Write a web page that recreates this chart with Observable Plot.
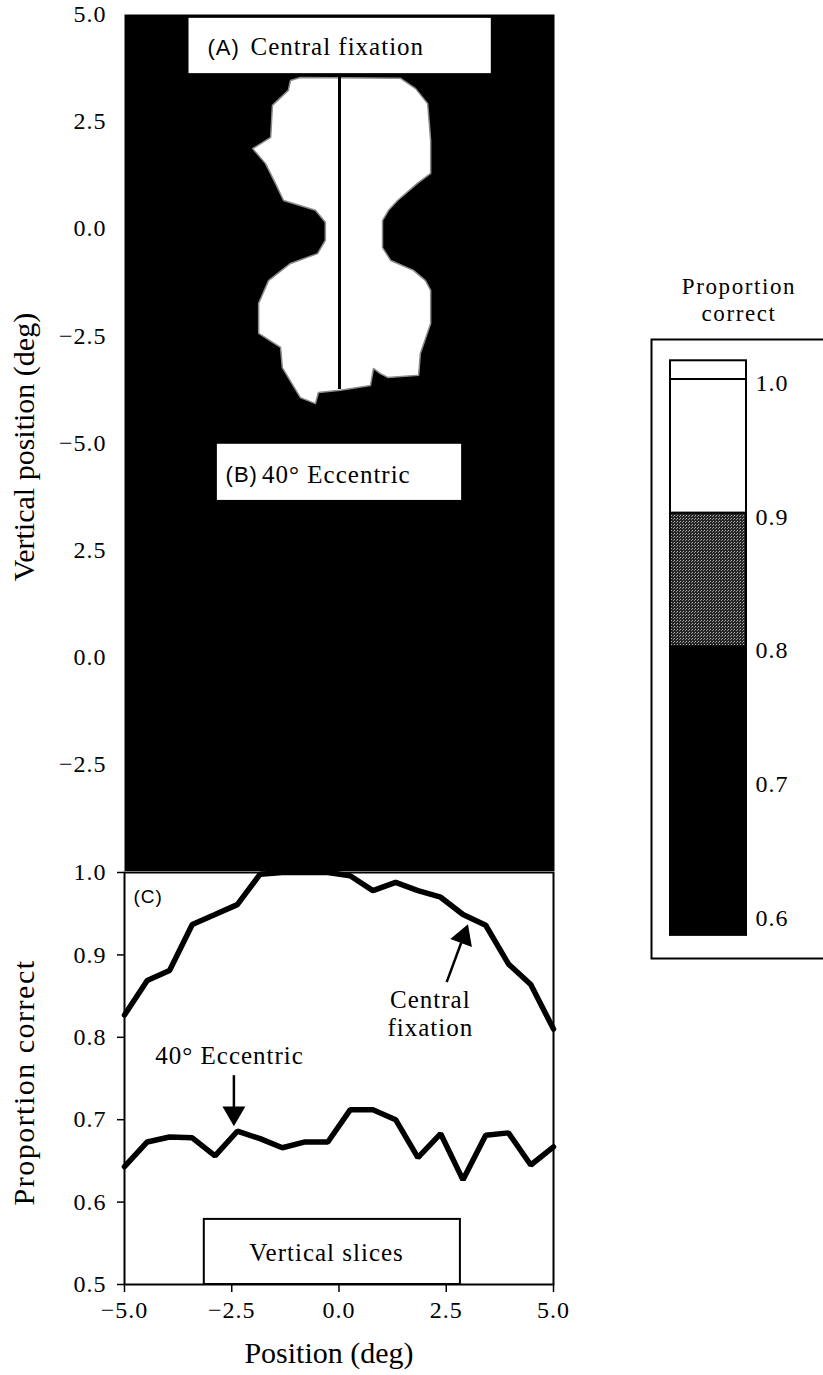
<!DOCTYPE html>
<html>
<head>
<meta charset="utf-8">
<script src="https://cdn.jsdelivr.net/npm/d3@7"></script>
<script src="https://cdn.jsdelivr.net/npm/@observablehq/plot@0.6"></script>
<style>
  html, body { margin: 0; padding: 0; background: #fff; }
  #chart { position: relative; width: 823px; height: 1375px; overflow: hidden; background: #fff; }
  #chart > svg { position: absolute; }
</style>
</head>
<body>
<div id="chart"></div>
<script>
// ---------- Panel C: proportion correct along vertical slices ----------
const positions = [-5.00, -4.47, -3.95, -3.42, -2.89, -2.37, -1.84, -1.32, -0.79, -0.26,
                    0.26, 0.79, 1.32, 1.84, 2.37, 2.89, 3.42, 3.95, 4.47, 5.00];
const centralFixation = [0.827, 0.869, 0.881, 0.937, 0.949, 0.961, 0.998, 1.0, 1.0, 1.0,
                         0.996, 0.978, 0.988, 0.978, 0.970, 0.949, 0.936, 0.889, 0.864, 0.810];
const eccentric40 = [0.643, 0.673, 0.679, 0.678, 0.656, 0.686, 0.677, 0.666, 0.673, 0.673,
                     0.712, 0.712, 0.700, 0.654, 0.683, 0.627, 0.681, 0.684, 0.645, 0.667];
const cXTicks = [-5, -2.5, 0, 2.5, 5];
const cYTicks = [0.5, 0.6, 0.7, 0.8, 0.9, 1.0];

// ---------- Panel A: region with proportion correct >= 0.9 (white) ----------
const blobX = [-1.14, -0.91, 1.42, 1.77, 2.05, 2.12, 2.12, 1.81, 1.35, 1.14, 1.00, 1.00, 1.19, 1.72,
               2.00, 2.12, 2.12, 1.88, 1.84, 1.12, 0.95, 0.79, 0.72, 0.02, -0.49, -0.56, -0.91,
               -1.33, -1.37, -1.88, -1.88, -1.65, -1.14, -0.51, -0.33, -0.33, -0.56, -1.30, -1.49,
               -1.72, -2.02, -1.60, -1.56, -1.19];
const blobY = [3.46, 3.53, 3.51, 3.27, 2.92, 2.06, 1.29, 1.06, 0.66, 0.43, 0.19, -0.44, -0.74, -0.97,
               -1.21, -1.44, -2.21, -2.91, -3.42, -3.47, -3.38, -3.26, -3.66, -3.77, -3.82, -4.08, -3.94,
               -3.24, -2.77, -2.44, -1.74, -1.21, -0.81, -0.58, -0.27, 0.15, 0.43, 0.66, 1.06,
               1.52, 1.87, 2.13, 2.88, 3.23];
const centreLineX = [0];
const centreLineTop = [3.62];
const centreLineBottom = [-3.75];

// A and B share one vertical axis; panel B is drawn 10 units below panel A
const panelBOffset = -10;
const abTickValues = [5, 2.5, 0, -2.5, -5, -7.5, -10, -12.5];
const abTickLabels = ["5.0", "2.5", "0.0", "−2.5", "−5.0", "2.5", "0.0", "−2.5"];

// Panel title boxes (in each panel's own coordinates)
const panelTags   = ["(A)", "(B)"];
const panelTitles = ["Central fixation", "40° Eccentric"];
const panelOffsets = [0, panelBOffset];
const boxX1 = [-3.50, -2.84];
const boxX2 = [3.53, 2.84];
const boxTop = [4.91, 4.97];
const boxBottom = [3.62, 3.66];
const tagX = [-3.07, -2.65];
const titleX = [-2.07, -1.80];
const titleY = [4.23, 4.26];

// Panel C annotations
const sliceBoxX = [-3.14, 2.83];
const sliceBoxY = [0.5, 0.579];
const arrowTailX = [-2.45, 2.51];
const arrowTailY = [0.754, 0.867];
const arrowHeadX = [-2.45, 2.90];
const arrowHeadY = [0.708, 0.922];
const arrowAngle = [180, 20];

// Colour key
const keyEdges = [0.584, 0.8, 0.9, 1.0, 1.014];
const keyColors = ["black", "url(#stipple)", "white", "white"];
const keyTicks = [1.0, 0.9, 0.8, 0.7, 0.6];

// ---------- build ----------
const serif = "'Liberation Serif', 'Times New Roman', serif";
const sans = "'Liberation Sans', Arial, sans-serif";
const chart = document.getElementById("chart");
function place(svg, left, top) {
  svg.style.left = left + "px";
  svg.style.top = top + "px";
  chart.appendChild(svg);
}
function spacing(svg, content, value) {
  svg.querySelectorAll("text").forEach(t => {
    if (t.textContent.replace(/\s+/g, " ").trim().startsWith(content)) t.style.letterSpacing = value;
  });
}

const blob = blobX.map((x, i) => ({x, y: blobY[i]}));
const centreLine = centreLineX.map((x, i) => ({x, y1: centreLineTop[i], y2: centreLineBottom[i]}));
const boxes = panelTags.map((tag, i) => ({
  tag, title: panelTitles[i],
  x1: boxX1[i], x2: boxX2[i],
  y1: boxTop[i] + panelOffsets[i], y2: boxBottom[i] + panelOffsets[i],
  tagX: tagX[i], titleX: titleX[i], textY: titleY[i] + panelOffsets[i]
}));

const abPlot = Plot.plot({
  width: 560, height: 871,
  marginLeft: 124, marginRight: 6, marginTop: 14, marginBottom: 0,
  style: {fontFamily: serif, fontSize: "24px", background: "transparent", letterSpacing: "1px", color: "black"},
  x: {domain: [-5, 5], axis: null},
  y: {domain: [-15, 5], axis: null},
  marks: [
    Plot.frame({fill: "black"}),
    Plot.line(blob, {x: "x", y: "y", curve: "linear-closed", fill: "white", stroke: "#8c8c8c", strokeWidth: 1.5}),
    Plot.ruleX(centreLine, {x: "x", y1: "y1", y2: "y2", stroke: "black", strokeWidth: 3}),
    Plot.rect(boxes, {x1: "x1", x2: "x2", y1: "y1", y2: "y2", fill: "white"}),
    Plot.text(boxes, {x: "tagX", y: "textY", text: "tag", textAnchor: "start", fontFamily: sans, fontSize: 22}),
    Plot.text(boxes, {x: "titleX", y: "textY", text: "title", textAnchor: "start", fontSize: 25}),
    Plot.axisY({ticks: abTickValues, tickFormat: d => abTickLabels[abTickValues.indexOf(d)],
                tickSize: 0, tickPadding: 18, fontSize: 24, label: null}),
    Plot.text(["Vertical position (deg)"], {frameAnchor: "left", textAnchor: "middle", lineAnchor: "middle",
                rotate: -90, dx: -100, dy: 4, fontSize: 30})
  ]
});
spacing(abPlot, "Vertical position", "0px");
place(abPlot, 0, 0);

const profiles = [
  ...positions.map((p, i) => ({position: p, value: centralFixation[i], series: "Central fixation"})),
  ...positions.map((p, i) => ({position: p, value: eccentric40[i], series: "40° Eccentric"}))
];
const arrows = arrowTailX.map((x, i) => ({
  x1: x, y1: arrowTailY[i], x2: arrowHeadX[i], y2: arrowHeadY[i], angle: arrowAngle[i]
}));
const sliceBox = [{x1: sliceBoxX[0], x2: sliceBoxX[1], y1: sliceBoxY[0], y2: sliceBoxY[1]}];
const serifNotes = [
  {text: "40° Eccentric", x: -2.55, y: 0.779},
  {text: "Central\nfixation", x: 2.13, y: 0.829},
  {text: "Vertical slices", x: -0.29, y: 0.540}
];

const cPlot = Plot.plot({
  width: 600, height: 524,
  marginLeft: 124, marginRight: 47, marginTop: 21, marginBottom: 91,
  style: {fontFamily: serif, fontSize: "24px", background: "transparent", letterSpacing: "1px", color: "black"},
  x: {domain: [-5, 5], axis: null},
  y: {domain: [0.5, 1.0], axis: null},
  marks: [
    Plot.frame({fill: "white"}),
    Plot.rect(sliceBox, {x1: "x1", x2: "x2", y1: "y1", y2: "y2", fill: "white", stroke: "black", strokeWidth: 2}),
    Plot.line(profiles, {x: "position", y: "value", z: "series", stroke: "black", strokeWidth: 5.5,
                         strokeLinejoin: "miter"}),
    Plot.frame({stroke: "black", strokeWidth: 2}),
    Plot.link(arrows, {x1: "x1", y1: "y1", x2: "x2", y2: "y2", stroke: "black", strokeWidth: 2.5}),
    Plot.dot(arrows, {x: "x2", y: "y2", symbol: "triangle", r: 8.5, fill: "black", rotate: "angle"}),
    Plot.text(serifNotes, {x: "x", y: "y", text: "text", fontSize: 25, lineHeight: 1.12}),
    Plot.text(["(C)"], {x: -4.79, y: 0.970, textAnchor: "start", fontFamily: sans, fontSize: 19}),
    Plot.axisX({ticks: cXTicks, tickFormat: ".1f", tickSize: 8, tickPadding: 8, strokeWidth: 1.5,
                fontSize: 24, label: null}),
    Plot.axisY({ticks: cYTicks, tickFormat: ".1f", tickSize: 7, tickPadding: 11, strokeWidth: 1.5,
                fontSize: 24, label: null}),
    Plot.text(["Position (deg)"], {frameAnchor: "bottom", textAnchor: "middle", lineAnchor: "middle",
                dy: 69, dx: -10, fontSize: 30}),
    Plot.text(["Proportion correct"], {frameAnchor: "left", textAnchor: "middle", lineAnchor: "middle",
                rotate: -90, dx: -100, dy: 4, fontSize: 30})
  ]
});
spacing(cPlot, "Position (deg)", "0px");
spacing(cPlot, "Proportion correct", "1.5px");
place(cPlot, 0, 851);

const keyBins = keyColors.map((c, i) => ({lo: keyEdges[i], hi: keyEdges[i + 1], color: c}));
const keyPlot = Plot.plot({
  width: 220, height: 720,
  marginLeft: 31, marginRight: 0, marginTop: 79, marginBottom: 22,
  style: {fontFamily: serif, fontSize: "24px", background: "transparent", letterSpacing: "1px", color: "black"},
  x: {domain: [0, 1], range: [50, 126], axis: null},
  y: {domain: [0.6, 1.0], range: [653.5, 119], axis: null},
  marks: [
    Plot.frame({stroke: "black", strokeWidth: 2}),
    ...keyBins.map(b => Plot.rect([b], {x1: 0, x2: 1, y1: "lo", y2: "hi", fill: b.color,
                                        stroke: "black", strokeWidth: 2})),
    Plot.text(keyTicks, {x: 1, y: d => d, text: d => d.toFixed(1), dx: 9, dy: 4, textAnchor: "start", fontSize: 24}),
    Plot.text(["Proportion\ncorrect"], {frameAnchor: "top", textAnchor: "middle", lineAnchor: "middle",
                dy: -41, dx: -7, fontSize: 23, lineHeight: 1.18})
  ]
});
spacing(keyPlot, "Proportion", "1.6px");
// stipple texture for the 0.8–0.9 band of the key
const ns = "http://www.w3.org/2000/svg";
const defs = document.createElementNS(ns, "defs");
const pat = document.createElementNS(ns, "pattern");
pat.setAttribute("id", "stipple");
pat.setAttribute("width", 3); pat.setAttribute("height", 3);
pat.setAttribute("patternUnits", "userSpaceOnUse");
[[0, 0, 3, 3, "#262626"], [0, 0, 1, 1, "#b4b4b4"], [2, 1, 1, 1, "#8a8a8a"]].forEach(([x, y, w, h, c]) => {
  const r = document.createElementNS(ns, "rect");
  r.setAttribute("x", x); r.setAttribute("y", y); r.setAttribute("width", w); r.setAttribute("height", h);
  r.setAttribute("fill", c);
  pat.appendChild(r);
});
defs.appendChild(pat);
keyPlot.insertBefore(defs, keyPlot.firstChild);
place(keyPlot, 620, 260);
</script>
</body>
</html>
